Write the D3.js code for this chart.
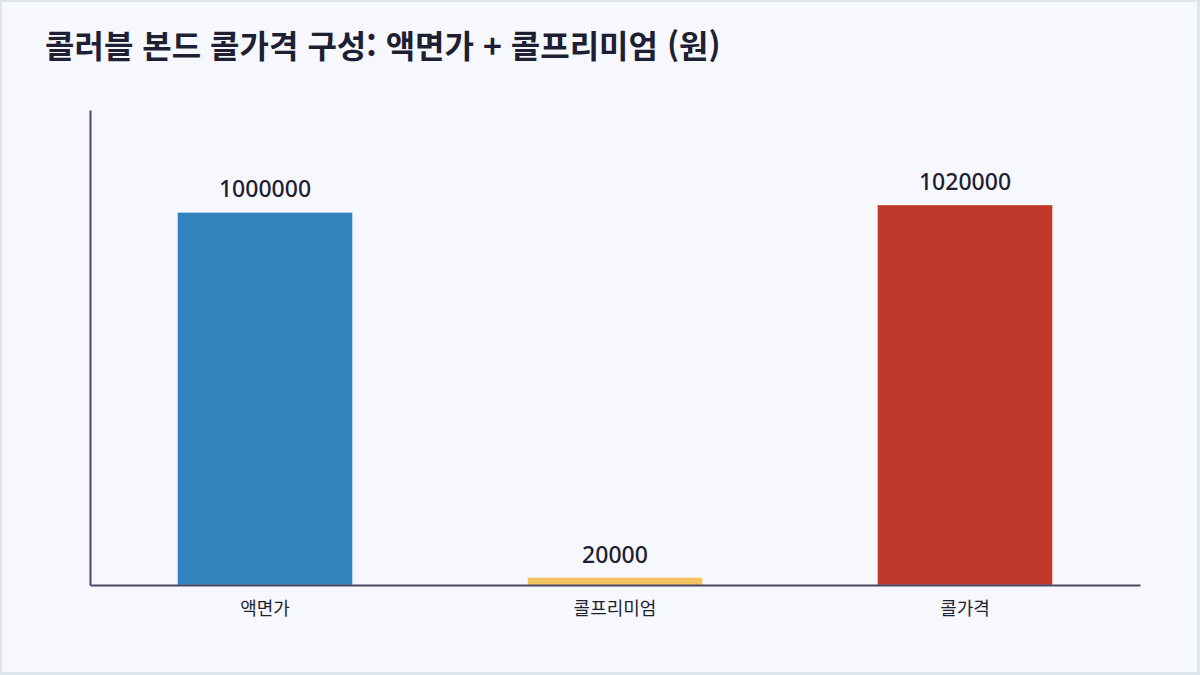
<!DOCTYPE html>
<html lang="ko">
<head>
<meta charset="utf-8">
<script src="https://cdn.jsdelivr.net/npm/d3@7"></script>
<style>
  html, body { margin: 0; padding: 0; background: #dfe5ec; }
  svg { display: block; font-family: "Noto Sans CJK KR", "Noto Sans", sans-serif; }
</style>
</head>
<body>
<div id="chart"></div>
<script>
// Données
const categories = ["액면가", "콜프리미엄", "콜가격"];
const values = [1000000, 20000, 1020000];
const colors = ["#3182bd", "#f2c35e", "#c0392b"];
const title = "콜러블 본드 콜가격 구성: 액면가 + 콜프리미엄 (원)";

const data = categories.map((c, i) => ({ cat: c, val: values[i], col: colors[i] }));

// Canevas
const W = 1200, H = 675;
const margin = { top: 110, right: 60, bottom: 90, left: 90 };
const width = W - margin.left - margin.right;
const height = H - margin.top - margin.bottom;

const svg = d3.select("#chart")
  .append("svg")
  .attr("width", W)
  .attr("height", H);

// fond de carte avec bordure
svg.append("rect")
  .attr("x", 1).attr("y", 1)
  .attr("width", W - 3).attr("height", H - 3)
  .attr("fill", "#f7f8fd")
  .attr("stroke", "#dfe5ec")
  .attr("stroke-width", 2);

// titre
svg.append("text")
  .attr("x", 45)
  .attr("y", 58)
  .attr("font-size", 32)
  .attr("font-weight", 700)
  .attr("fill", "#1f1f33")
  .text(title);

const plot = svg.append("g")
  .attr("transform", `translate(${margin.left}, ${margin.top})`);

// Échelles
const x = d3.scaleBand()
  .domain(categories)
  .range([0, width])
  .paddingInner(0.5)
  .paddingOuter(0.25);

const y = d3.scaleLinear()
  .domain([0, d3.max(values) * 1.25])
  .range([height, 0]);

// Barres
plot.selectAll(".bar")
  .data(data)
  .join("rect")
  .attr("class", "bar")
  .attr("x", d => x(d.cat))
  .attr("y", d => y(d.val))
  .attr("width", x.bandwidth())
  .attr("height", d => height - y(d.val))
  .attr("fill", d => d.col)
  .attr("stroke", "#ffffff")
  .attr("stroke-opacity", 0.35)
  .attr("stroke-width", 1);

// Valeurs
plot.selectAll(".val")
  .data(data)
  .join("text")
  .attr("class", "val")
  .attr("x", d => x(d.cat) + x.bandwidth() / 2)
  .attr("y", d => y(d.val) - 15)
  .attr("text-anchor", "middle")
  .attr("font-size", 23)
  .attr("font-weight", 500)
  .style("font-family", '"Noto Sans", sans-serif')
  .attr("fill", "#1f1f33")
  .text(d => d.val);

// Axe X
const xAxis = plot.append("g")
  .attr("transform", `translate(0, ${height})`)
  .call(d3.axisBottom(x).tickSize(0).tickPadding(17));
xAxis.select(".domain").attr("stroke", "#4a4766").attr("stroke-width", 2);
xAxis.selectAll("text")
  .attr("font-size", 18)
  .attr("fill", "#1f1f33")
  .style("font-family", '"Noto Sans CJK KR", sans-serif');

// Axe Y (sans graduations)
const yAxis = plot.append("g")
  .call(d3.axisLeft(y).tickValues([]).tickSize(0));
yAxis.select(".domain").attr("stroke", "#4a4766").attr("stroke-width", 2);
</script>
</body>
</html>
